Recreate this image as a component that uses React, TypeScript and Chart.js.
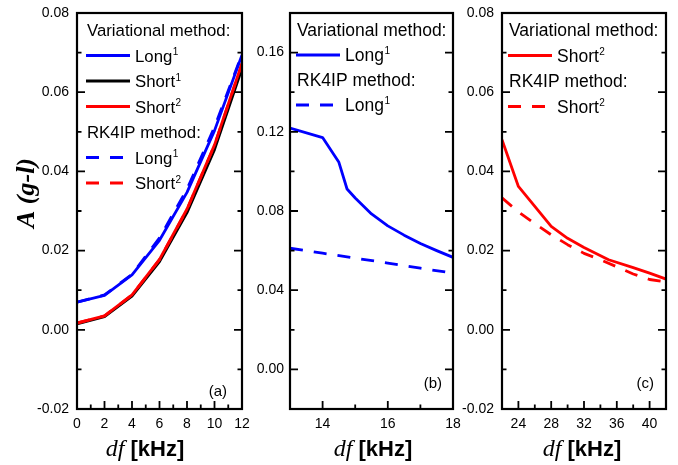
import React, { useEffect, useRef } from 'react';
import { Chart, registerables } from 'chart.js';

Chart.register(...registerables);

// ---------- Panel (a) data ----------
const A_DF = [0, 2, 4, 6, 8, 10, 12];
const A_VAR_LONG1 = [0.007, 0.0087, 0.0139, 0.0226, 0.0347, 0.0503, 0.0694];
const A_VAR_SHORT1 = [0.0015, 0.0033, 0.0085, 0.0172, 0.0296, 0.0455, 0.066];
const A_VAR_SHORT2 = [0.0017, 0.0035, 0.0088, 0.0178, 0.0305, 0.0467, 0.0673];
const A_RK_LONG1 = [0.007, 0.0088, 0.014, 0.0232, 0.0355, 0.0512, 0.0696];
const A_RK_SHORT2 = [0.0017, 0.0035, 0.0088, 0.0177, 0.0304, 0.0466, 0.0672];

// ---------- Panel (b) data ----------
const B_VAR_DF = [13, 14, 14.5, 14.75, 15, 15.5, 16, 16.5, 17, 17.5, 18];
const B_VAR_LONG1 = [0.1219, 0.1171, 0.1046, 0.0911, 0.0866, 0.0785, 0.0725, 0.0678, 0.0636, 0.06, 0.0566];
const B_RK_DF = [13, 14, 15, 16, 17, 18];
const B_RK_LONG1 = [0.0612, 0.0587, 0.0562, 0.0537, 0.0511, 0.0486];

// ---------- Panel (c) data ----------
const C_VAR_DF = [22, 24, 28, 30, 32, 35, 38, 40, 42];
const C_VAR_SHORT2 = [0.048, 0.0362, 0.0261, 0.0231, 0.0208, 0.0177, 0.0157, 0.0143, 0.0128];
const C_RK_DF = [22, 24, 26, 28, 30, 32, 34, 36, 38, 40, 42];
const C_RK_SHORT2 = [0.0333, 0.0298, 0.0268, 0.024, 0.0215, 0.0193, 0.0177, 0.0159, 0.0141, 0.0127, 0.0121];

// ---------- Axis ticks ----------
const A_X_MAJOR = [0, 2, 4, 6, 8, 10, 12];
const A_X_MINOR = [1, 3, 5, 7, 9, 11];
const B_X_MAJOR = [14, 16, 18];
const B_X_MINOR = [15, 17];
const C_X_MAJOR = [24, 28, 32, 36, 40];
const C_X_MINOR = [26, 30, 34, 38];
const AC_Y_MAJOR = [-0.02, 0, 0.02, 0.04, 0.06, 0.08];
const AC_Y_MINOR = [-0.01, 0.01, 0.03, 0.05, 0.07];
const B_Y_MAJOR = [0, 0.04, 0.08, 0.12, 0.16];
const B_Y_MINOR = [0.02, 0.06, 0.1, 0.14];

// ---------- Text ----------
const HEADER_VAR = 'Variational method:';
const HEADER_RK = 'RK4IP method:';
const Y_TITLE = 'A (g-l)';
const X_TITLE_ITALIC = 'df';
const X_TITLE_UNIT = '[kHz]';

const BLUE = '#0000ff';
const RED = '#ff0000';
const BLACK = '#000000';
const DASH = [13, 11];
const SANS = '"Liberation Sans", Arial, sans-serif';
const SERIF = '"Liberation Serif", "Times New Roman", serif';

const W = 678;
const H = 465;

function pts(xs: number[], ys: number[]) {
  return xs.map((x, i) => ({ x, y: ys[i] }));
}

function ds(label: string, xs: number[], ys: number[], color: string, dashed: boolean) {
  return {
    label,
    data: pts(xs, ys),
    borderColor: color,
    backgroundColor: color,
    borderWidth: 2.8,
    borderDash: dashed ? DASH : [],
    borderCapStyle: 'butt',
    borderJoinStyle: 'round',
    pointRadius: 0,
    tension: 0,
    fill: false,
  };
}

type LegendItem = { header?: string; ds?: number; text?: string; sup?: string };

type Panel = {
  padL: number;
  yW: number;
  padR: number;
  xMin: number;
  xMax: number;
  yMin: number;
  yMax: number;
  xMajor: number[];
  xMinor: number[];
  yMajor: number[];
  yMinor: number[];
  datasets: any[];
  legend: LegendItem[];
  legendX: number;
  legendTop: number;
  legendRow: number;
  legendFont: number;
  tag: string;
  tagRight: number;
  tagBottom: number;
  xTitleCx: number;
  yTitle: boolean;
  yPad: number;
};

const PANELS: Panel[] = [
  {
    padL: 0, yW: 77, padR: W - 242,
    xMin: 0, xMax: 12, yMin: -0.02, yMax: 0.08,
    xMajor: A_X_MAJOR, xMinor: A_X_MINOR, yMajor: AC_Y_MAJOR, yMinor: AC_Y_MINOR,
    datasets: [
      ds('RK4IP Long1', A_DF, A_RK_LONG1, BLUE, true),
      ds('RK4IP Short2', A_DF, A_RK_SHORT2, RED, true),
      ds('Variational Long1', A_DF, A_VAR_LONG1, BLUE, false),
      ds('Variational Short2', A_DF, A_VAR_SHORT2, RED, false),
      ds('Variational Short1', A_DF, A_VAR_SHORT1, BLACK, false),
    ],
    legend: [
      { header: HEADER_VAR },
      { ds: 2, text: 'Long', sup: '1' },
      { ds: 4, text: 'Short', sup: '1' },
      { ds: 3, text: 'Short', sup: '2' },
      { header: HEADER_RK },
      { ds: 0, text: 'Long', sup: '1' },
      { ds: 1, text: 'Short', sup: '2' },
    ],
    legendX: 10, legendTop: 17, legendRow: 25.5, legendFont: 16.8,
    tag: '(a)', tagRight: 15, tagBottom: 17,
    xTitleCx: 145, yTitle: true, yPad: 8,
  },
  {
    padL: 246, yW: 44, padR: W - 453,
    xMin: 13, xMax: 18, yMin: -0.02, yMax: 0.18,
    xMajor: B_X_MAJOR, xMinor: B_X_MINOR, yMajor: B_Y_MAJOR, yMinor: B_Y_MINOR,
    datasets: [
      ds('RK4IP Long1', B_RK_DF, B_RK_LONG1, BLUE, true),
      ds('Variational Long1', B_VAR_DF, B_VAR_LONG1, BLUE, false),
    ],
    legend: [
      { header: HEADER_VAR },
      { ds: 1, text: 'Long', sup: '1' },
      { header: HEADER_RK },
      { ds: 0, text: 'Long', sup: '1' },
    ],
    legendX: 7, legendTop: 17, legendRow: 25, legendFont: 17.5,
    tag: '(b)', tagRight: 11, tagBottom: 25,
    xTitleCx: 373, yTitle: false, yPad: 6,
  },
  {
    padL: 456, yW: 46, padR: W - 666,
    xMin: 22, xMax: 42, yMin: -0.02, yMax: 0.08,
    xMajor: C_X_MAJOR, xMinor: C_X_MINOR, yMajor: AC_Y_MAJOR, yMinor: AC_Y_MINOR,
    datasets: [
      ds('RK4IP Short2', C_RK_DF, C_RK_SHORT2, RED, true),
      ds('Variational Short2', C_VAR_DF, C_VAR_SHORT2, RED, false),
    ],
    legend: [
      { header: HEADER_VAR },
      { ds: 1, text: 'Short', sup: '2' },
      { header: HEADER_RK },
      { ds: 0, text: 'Short', sup: '2' },
    ],
    legendX: 7, legendTop: 17, legendRow: 25.5, legendFont: 17.5,
    tag: '(c)', tagRight: 12, tagBottom: 25,
    xTitleCx: 582, yTitle: false, yPad: 8,
  },
];

function framePlugin(p: Panel) {
  return {
    id: 'frame',
    afterDraw(chart: any) {
      const ctx = chart.ctx as CanvasRenderingContext2D;
      const { left, right, top, bottom } = chart.chartArea;
      const xs = chart.scales.x;
      const ys = chart.scales.y;
      ctx.save();
      // ticks (inward)
      ctx.strokeStyle = '#000';
      ctx.lineWidth = 1.8;
      ctx.setLineDash([]);
      ctx.beginPath();
      const MAJ = 8;
      const MIN = 4.5;
      p.xMajor.forEach((v) => {
        const px = xs.getPixelForValue(v);
        ctx.moveTo(px, bottom);
        ctx.lineTo(px, bottom - MAJ);
      });
      p.xMinor.forEach((v) => {
        const px = xs.getPixelForValue(v);
        ctx.moveTo(px, bottom);
        ctx.lineTo(px, bottom - MIN);
      });
      p.yMajor.forEach((v) => {
        const py = ys.getPixelForValue(v);
        ctx.moveTo(left, py);
        ctx.lineTo(left + MAJ, py);
        ctx.moveTo(right, py);
        ctx.lineTo(right - MAJ, py);
      });
      p.yMinor.forEach((v) => {
        const py = ys.getPixelForValue(v);
        ctx.moveTo(left, py);
        ctx.lineTo(left + MIN, py);
        ctx.moveTo(right, py);
        ctx.lineTo(right - MIN, py);
      });
      ctx.stroke();
      // frame
      ctx.lineWidth = 2.2;
      ctx.strokeRect(left, top, right - left, bottom - top);

      // legend
      const fs = p.legendFont;
      const supFs = 10;
      p.legend.forEach((item, i) => {
        const cy = top + p.legendTop + i * p.legendRow;
        const base = cy + 0.358 * fs;
        ctx.fillStyle = '#000';
        ctx.textAlign = 'left';
        ctx.textBaseline = 'alphabetic';
        if (item.header) {
          ctx.font = `${fs}px ${SANS}`;
          ctx.fillText(item.header, left + p.legendX, base);
        } else if (item.ds !== undefined) {
          const d = chart.data.datasets[item.ds];
          const x0 = left + p.legendX - 1;
          ctx.save();
          ctx.strokeStyle = d.borderColor;
          ctx.lineWidth = 2.8;
          ctx.lineCap = 'butt';
          ctx.setLineDash(d.borderDash || []);
          ctx.beginPath();
          ctx.moveTo(x0, cy);
          ctx.lineTo(x0 + 44, cy);
          ctx.stroke();
          ctx.restore();
          const tx = x0 + 49;
          ctx.font = `${fs}px ${SANS}`;
          ctx.fillText(item.text || '', tx, base);
          const w = ctx.measureText(item.text || '').width;
          ctx.font = `${supFs}px ${SANS}`;
          ctx.fillText(item.sup || '', tx + w + 0.5, base - 0.716 * fs + 0.716 * supFs - 1.5);
        }
      });

      // panel tag
      ctx.font = `15px ${SANS}`;
      ctx.textAlign = 'right';
      ctx.textBaseline = 'middle';
      ctx.fillStyle = '#000';
      ctx.fillText(p.tag, right - p.tagRight, bottom - p.tagBottom);

      // x title
      ctx.textBaseline = 'alphabetic';
      ctx.textAlign = 'left';
      const f1 = `italic 24px ${SERIF}`;
      const f2 = `bold 22px ${SANS}`;
      ctx.font = f1;
      const w1 = ctx.measureText(X_TITLE_ITALIC).width;
      ctx.font = f2;
      const w2 = ctx.measureText(' ' + X_TITLE_UNIT).width;
      const sx = p.xTitleCx - (w1 + w2) / 2;
      const by = 456;
      ctx.font = f1;
      ctx.fillText(X_TITLE_ITALIC, sx, by);
      ctx.font = f2;
      ctx.fillText(' ' + X_TITLE_UNIT, sx + w1, by);

      // y title
      if (p.yTitle) {
        ctx.save();
        ctx.translate(27, 193);
        ctx.rotate(-Math.PI / 2);
        ctx.font = `bold italic 26px ${SERIF}`;
        ctx.textAlign = 'center';
        ctx.textBaseline = 'middle';
        ctx.fillText(Y_TITLE, 0, 0);
        ctx.restore();
      }
      ctx.restore();
    },
  };
}

function makeConfig(p: Panel): any {
  const tickFont = { family: SANS, size: 14 };
  return {
    type: 'line',
    data: { datasets: p.datasets },
    options: {
      responsive: false,
      animation: false,
      events: [],
      layout: { padding: { left: p.padL, right: p.padR, top: 13, bottom: 0 } },
      plugins: { legend: { display: false }, tooltip: { enabled: false }, title: { display: false } },
      scales: {
        x: {
          type: 'linear',
          min: p.xMin,
          max: p.xMax,
          afterBuildTicks: (s: any) => {
            s.ticks = p.xMajor.map((v) => ({ value: v }));
          },
          afterFit: (s: any) => {
            s.height = H - 409;
            s.paddingLeft = 0;
            s.paddingRight = 0;
          },
          grid: { display: false, drawTicks: false },
          border: { display: false },
          ticks: {
            font: tickFont,
            color: '#000',
            padding: 7,
            maxRotation: 0,
            autoSkip: false,
            callback: (v: any) => String(v),
          },
        },
        y: {
          type: 'linear',
          min: p.yMin,
          max: p.yMax,
          afterBuildTicks: (s: any) => {
            s.ticks = p.yMajor.map((v) => ({ value: v }));
          },
          afterFit: (s: any) => {
            s.width = p.yW;
            s.paddingTop = 0;
            s.paddingBottom = 0;
          },
          grid: { display: false, drawTicks: false },
          border: { display: false },
          ticks: {
            font: tickFont,
            color: '#000',
            padding: p.yPad,
            autoSkip: false,
            callback: (v: any) => Number(v).toFixed(2),
          },
        },
      },
    },
    plugins: [framePlugin(p)],
  };
}

function PanelCanvas({ panel }: { panel: Panel }) {
  const ref = useRef<HTMLCanvasElement | null>(null);
  useEffect(() => {
    if (!ref.current) return;
    const chart = new Chart(ref.current, makeConfig(panel));
    return () => chart.destroy();
  }, [panel]);
  return (
    <canvas
      ref={ref}
      width={W}
      height={H}
      style={{ position: 'absolute', left: 0, top: 0, width: W, height: H }}
    />
  );
}

export default function App() {
  return (
    <div style={{ position: 'fixed', left: 0, top: 0, width: W, height: H, background: '#fff' }}>
      {PANELS.map((p, i) => (
        <PanelCanvas key={i} panel={p} />
      ))}
    </div>
  );
}
